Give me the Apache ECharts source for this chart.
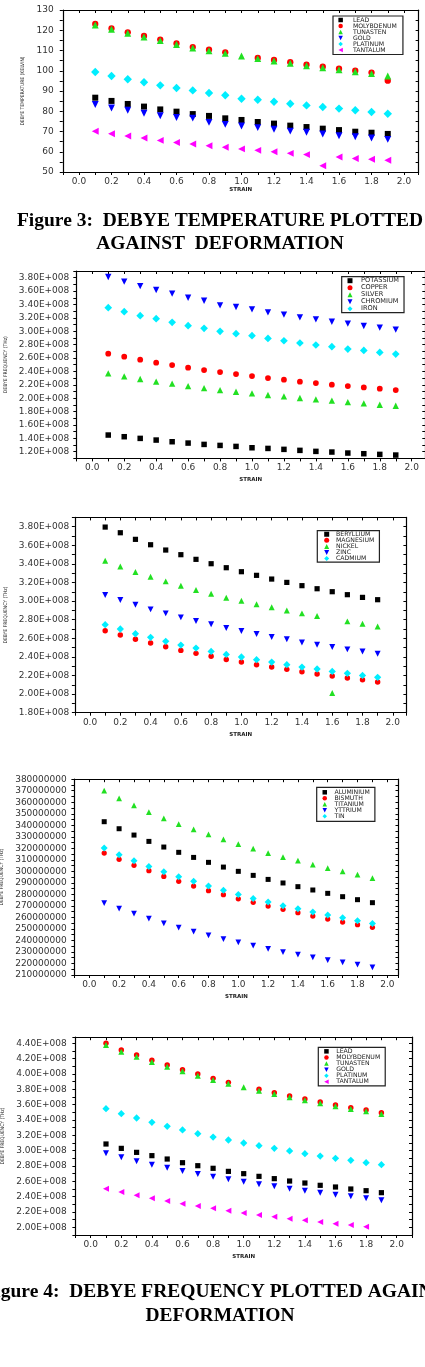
<!DOCTYPE html>
<html>
<head>
<meta charset="utf-8">
<script src="https://cdn.jsdelivr.net/npm/echarts@6/dist/echarts.min.js"></script>
<style>
html,body{margin:0;padding:0;background:#fff;}
#c{width:425px;height:1367px;}
</style>
</head>
<body>
<div id="c"></div>
<script>
// ---------- DATA ----------
const strain = [0.1,0.2,0.3,0.4,0.5,0.6,0.7,0.8,0.9,1.0,1.1,1.2,1.3,1.4,1.5,1.6,1.7,1.8,1.9];

// Figure 3: Debye temperature (K)
const c1_lead       = [86.7,85.1,83.6,82.3,80.9,79.8,78.6,77.7,76.5,75.7,74.7,73.9,72.9,72.2,71.4,70.7,69.9,69.4,68.8];
const c1_molybdenum = [123.1,120.9,119.0,117.2,115.4,113.5,111.7,110.4,109.1,null,106.3,105.3,104.2,103.0,102.0,101.0,100.0,99.1,95.1];
const c1_tungsten   = [122.6,120.5,118.5,116.7,114.9,113.0,111.2,109.9,108.6,107.3,106.0,104.8,103.7,102.5,101.5,100.5,99.5,98.6,97.4];
const c1_gold       = [83.3,81.6,80.5,79.0,77.8,76.9,76.6,74.5,73.5,72.7,71.9,71.1,70.2,69.6,68.8,67.9,67.4,66.8,66.1];
const c1_platinum   = [99.4,97.4,95.8,94.3,92.8,91.5,90.3,89.0,87.9,86.2,85.7,84.7,83.7,82.9,82.1,81.3,80.5,79.6,78.8];
const c1_tantalum   = [70.1,68.9,67.8,66.8,65.6,64.6,63.8,63.0,62.2,61.4,60.7,60.0,59.2,58.6,53.1,57.4,56.7,56.3,55.8];

// Figure 4 panels: Debye frequency (THz)  (values in units of 1E+008)
const c2_potassium = [1.449,1.424,1.399,1.374,1.349,1.329,1.309,1.294,1.279,1.259,1.249,1.235,1.220,1.205,1.195,1.180,1.170,1.160,1.150];
const c2_copper    = [2.664,2.619,2.575,2.530,2.495,2.455,2.420,2.390,2.360,2.330,2.301,2.276,2.246,2.226,2.201,2.181,2.161,2.141,2.121];
const c2_silver    = [2.370,2.326,2.286,2.246,2.216,2.181,2.151,2.121,2.096,2.072,2.047,2.027,2.002,1.982,1.962,1.942,1.922,1.902,1.887];
const c2_chromium  = [3.810,3.740,3.675,3.616,3.561,3.500,3.456,3.387,3.362,3.327,3.282,3.247,3.207,3.177,3.142,3.113,3.078,3.053,3.023];
const c2_iron      = [3.352,3.292,3.232,3.187,3.133,3.083,3.043,2.998,2.963,2.933,2.893,2.858,2.824,2.794,2.769,2.734,2.714,2.684,2.659];

const c3_beryllium = [3.796,3.735,3.664,3.606,3.549,3.499,3.449,3.402,3.359,3.316,3.277,3.237,3.201,3.166,3.133,3.101,3.069,3.040,3.015];
const c3_magnesium = [2.682,2.635,2.589,2.549,2.510,2.470,2.438,2.406,2.373,2.345,2.316,2.291,2.266,2.241,2.216,2.194,2.173,2.155,2.130];
const c3_nickel    = [3.434,3.373,3.313,3.262,3.212,3.166,3.119,3.080,3.037,3.004,2.965,2.933,2.900,2.868,2.839,2.012,2.782,2.757,2.728];
const c3_zinc      = [3.065,3.011,2.961,2.911,2.868,2.825,2.786,2.750,2.710,2.678,2.646,2.614,2.589,2.556,2.531,2.506,2.481,2.459,2.434];
const c3_cadmium   = [2.746,2.700,2.649,2.610,2.567,2.527,2.495,2.459,2.427,2.399,2.370,2.345,2.316,2.291,2.270,2.244,2.223,2.201,2.180];

// (values in units of 1 000 000)
const c4_aluminium = [343.1,337.0,331.5,326.0,321.1,316.5,312.1,307.8,303.7,300.0,296.5,293.0,289.9,286.7,283.8,280.9,278.0,275.4,272.8];
const c4_bismuth   = [315.9,310.4,305.2,300.6,295.6,291.3,287.2,283.2,279.7,276.2,273.1,269.9,267.0,264.1,261.2,258.6,256.0,253.7,251.4];
const c4_titanium  = [370.0,363.3,357.3,351.5,346.0,341.1,336.4,332.1,327.8,323.7,319.7,315.9,312.4,309.2,305.8,302.9,300.0,297.1,294.2];
const c4_yttrium   = [272.5,267.6,263.2,258.9,254.8,251.1,247.6,244.4,241.2,238.3,235.5,232.6,229.9,227.6,225.3,223.0,221.0,218.9,216.6];
const c4_tin       = [320.2,314.4,309.2,304.3,299.7,295.3,291.3,287.2,283.5,280.0,276.5,273.4,270.2,267.6,264.7,262.1,259.8,257.2,254.8];

const c5_lead       = [3.087,3.030,2.978,2.935,2.891,2.843,2.804,2.770,2.730,2.700,2.665,2.635,2.604,2.578,2.548,2.526,2.500,2.478,2.452];
const c5_molybdenum = [4.400,4.313,4.248,4.178,4.117,4.057,4.000,3.943,3.891,null,3.800,3.757,3.713,3.674,3.635,3.596,3.561,3.530,3.496];
const c5_tungsten   = [4.378,4.291,4.226,4.157,4.096,4.035,3.978,3.922,3.874,3.826,3.783,3.739,3.696,3.657,3.617,3.578,3.543,3.513,3.478];
const c5_gold       = [2.965,2.913,2.861,2.817,2.778,2.735,2.696,2.661,2.626,2.596,2.561,2.535,2.504,2.478,2.452,2.426,2.404,2.378,2.352];
const c5_platinum   = [3.548,3.483,3.426,3.370,3.317,3.270,3.222,3.178,3.139,3.100,3.065,3.030,2.996,2.961,2.930,2.900,2.874,2.843,2.817];
const c5_tantalum   = [2.504,2.461,2.417,2.378,2.343,2.309,2.278,2.248,2.217,2.187,2.161,2.139,2.113,2.091,2.070,2.048,2.030,2.009,null];

const UNIT_E8 = 1e8, UNIT_M = 1e6;

// ---------- STYLE / MARKERS ----------
const MK = {
  sq:   {symbol:'rect', rot:0, color:'#000000', k:1, icon:'rect'},
  ci:   {symbol:'circle', rot:0, color:'#ff0000', k:1.05, icon:'circle'},
  up:   {symbol:'triangle', rot:0, color:'#22e022', k:1.15, icon:'path://M5,0L10,10L0,10Z'},
  dn:   {symbol:'triangle', rot:180, color:'#0000ff', k:1.15, icon:'path://M0,0L10,0L5,10Z'},
  di:   {symbol:'diamond', rot:0, color:'#00eeff', k:1.4, icon:'diamond'},
  lf:   {symbol:'triangle', rot:90, color:'#ff00ff', k:1.15, icon:'path://M10,0L10,10L0,5Z'}
};

const eFmt = v => { const n = Math.round(v/1e7); return n % 2 ? '' : (n/10).toFixed(2) + 'E+008'; };
const xFmt = v => { const n = Math.round(v*10); return (n % 2 || n < 0) ? '' : (n/10).toFixed(1); };

const panels = [
  { grid:{left:62.75, top:10, width:355.9, height:162}, xmax:2.09,
    y:{min:50, max:130, interval:5, fmt: v => (Math.round(v) % 10 === 0 ? String(Math.round(v)) : '')},
    yName:'DEBYE TEMPERATURE (KELVIN)', yNameGap:35, yLabMargin:9, xLabMargin:5, xNameGap:15, size:6,
    legend:{left:333, top:16, pitch:4.9, icon:4.5, fs:6.2, pad:[1,6,1.5,5.4], tpad:5} ,
    series:[['LEAD',c1_lead,'sq',1],['MOLYBDENUM',c1_molybdenum,'ci',1],['TUNASTEN',c1_tungsten,'up',1],
            ['GOLD',c1_gold,'dn',1],['PLATINUM',c1_platinum,'di',1],['TANTALUM',c1_tantalum,'lf',1]] },
  { grid:{left:76.3, top:271.0, width:349.0, height:187.4}, xmax:2.085,
    y:{min:1.1e8, max:3.9e8, interval:1e7, fmt:eFmt},
    yName:'DEBYE FREQUENCY (THz)', yNameGap:68, yLabMargin:7, xLabMargin:4.5, xNameGap:18, size:5.5,
    legend:{left:341.7, top:276.7, pitch:6.1, icon:5, fs:6.6, pad:[0.5,5,0.5,5.8], tpad:3.5},
    series:[['POTASSIUM',c2_potassium,'sq',UNIT_E8],['COPPER',c2_copper,'ci',UNIT_E8],['SILVER',c2_silver,'up',UNIT_E8],
            ['CHROMIUM',c2_chromium,'dn',UNIT_E8],['IRON',c2_iron,'di',UNIT_E8]] },
  { grid:{left:74.9, top:517.4, width:331.5, height:195.3}, xmax:2.09,
    y:{min:1.8e8, max:3.9e8, interval:1e7, fmt:eFmt},
    yName:'DEBYE FREQUENCY (THz)', yNameGap:66.5, yLabMargin:5.6, xLabMargin:5.5, xNameGap:18.5, size:5.2,
    legend:{left:317.3, top:530.7, pitch:6.07, icon:5, fs:6.2, pad:[0.5,5,0.5,6.9], tpad:1.8},
    series:[['BERYLLIUM',c3_beryllium,'sq',UNIT_E8],['MAGNESIUM',c3_magnesium,'ci',UNIT_E8],['NICKEL',c3_nickel,'up',UNIT_E8],
            ['ZINC',c3_zinc,'dn',UNIT_E8],['CADMIUM',c3_cadmium,'di',UNIT_E8]] },
  { grid:{left:74.4, top:779.2, width:324.1, height:195.8}, xmax:2.075,
    y:{min:2.1e8, max:3.8e8, interval:5e6, fmt: v => (Math.round(v/5e6) % 2 ? '' : String(Math.round(v)))},
    yName:'DEBYE FREQUENCY (THz)', yNameGap:65, yLabMargin:7.7, xLabMargin:5, xNameGap:18.5, size:5,
    legend:{left:316.7, top:787.3, pitch:6.0, icon:4.5, fs:6.2, pad:[2,5,2,5.8], tpad:2.5},
    series:[['ALUMINIUM',c4_aluminium,'sq',UNIT_M],['BISMUTH',c4_bismuth,'ci',UNIT_M],['TITANIUM',c4_titanium,'up',UNIT_M],
            ['YTTRIUM',c4_yttrium,'dn',UNIT_M],['TIN',c4_tin,'di',UNIT_M]] },
  { grid:{left:75.4, top:1037.2, width:336.6, height:197.8}, xmax:2.1,
    y:{min:1.9e8, max:4.48e8, interval:1e7, fmt:eFmt},
    yName:'DEBYE FREQUENCY (THz)', yNameGap:67, yLabMargin:8.7, xLabMargin:5.5, xNameGap:19, size:5.2,
    legend:{left:318.3, top:1047.3, pitch:6.1, icon:4.5, fs:6.2, pad:[1,5,1,5.9], tpad:2.5},
    series:[['LEAD',c5_lead,'sq',UNIT_E8],['MOLYBDENUM',c5_molybdenum,'ci',UNIT_E8],['TUNASTEN',c5_tungsten,'up',UNIT_E8],
            ['GOLD',c5_gold,'dn',UNIT_E8],['PLATINUM',c5_platinum,'di',UNIT_E8],['TANTALUM',c5_tantalum,'lf',UNIT_E8]] }
];

const grids=[], xAxes=[], yAxes=[], series=[], legends=[];
const AX = '#000';
const tickFont = {fontSize:9, fontFamily:'DejaVu Sans', color:'#333'};

panels.forEach((p, i) => {
  grids.push(Object.assign({outerBoundsMode:'none', containLabel:false}, p.grid));
  const xBase = {type:'value', gridIndex:i, min:-0.1, max:p.xmax, interval:0.1, splitLine:{show:false},
    axisLine:{show:true, onZero:false, lineStyle:{color:AX, width:1.2}}};
  xAxes.push(Object.assign({}, xBase, {position:'bottom',
    axisTick:{show:true, inside:false, length:3, lineStyle:{color:AX}},
    axisLabel:Object.assign({formatter:xFmt, margin:p.xLabMargin, showMinLabel:true, showMaxLabel:true}, tickFont),
    name:'STRAIN', nameLocation:'middle', nameGap:p.xNameGap,
    nameTextStyle:{fontSize:5.5, fontWeight:'bold', fontFamily:'DejaVu Sans', color:'#222'}}));
  xAxes.push(Object.assign({}, xBase, {position:'top',
    axisTick:{show:true, inside:true, length:3, lineStyle:{color:AX}}, axisLabel:{show:false}}));
  const yBase = {type:'value', gridIndex:i, min:p.y.min, max:p.y.max, interval:p.y.interval, splitLine:{show:false},
    axisLine:{show:true, onZero:false, lineStyle:{color:AX, width:1.2}}};
  yAxes.push(Object.assign({}, yBase, {position:'left',
    axisTick:{show:true, inside:false, length:3, lineStyle:{color:AX}},
    axisLabel:Object.assign({formatter:p.y.fmt, margin:p.yLabMargin, showMinLabel:true, showMaxLabel:true}, tickFont),
    name:p.yName, nameLocation:'middle', nameGap:p.yNameGap, nameRotate:90,
    nameTextStyle:{fontSize:5, fontFamily:'Liberation Sans Narrow, DejaVu Sans Condensed, sans-serif', color:'#222'}}));
  yAxes.push(Object.assign({}, yBase, {position:'right',
    axisTick:{show:true, inside:true, length:3, lineStyle:{color:AX}}, axisLabel:{show:false}}));

  p.series.forEach(([name, vals, mk, unit]) => {
    const m = MK[mk];
    const data = [];
    vals.forEach((v, k) => { if (v !== null) data.push([strain[k], v*unit]); });
    series.push({type:'scatter', name, xAxisIndex:2*i, yAxisIndex:2*i, data,
      symbol:m.symbol, symbolRotate:m.rot, symbolSize:p.size*m.k,
      itemStyle:{color:m.color, opacity:1}, emphasis:{disabled:true}, silent:true});
  });

  const L = p.legend;
  legends.push({orient:'vertical', left:L.left, top:L.top, padding:L.pad, itemGap:0,
    itemWidth:L.icon, itemHeight:L.icon, selectedMode:false, symbolRotate:0,
    borderColor:'#222', borderWidth:1.2, backgroundColor:'#fff',
    textStyle:{fontSize:L.fs, lineHeight:L.pitch, fontFamily:'DejaVu Sans', color:'#222', padding:[0,0,0,L.tpad]},
    data:p.series.map(s => ({name:s[0], icon:MK[s[2]].icon, symbolRotate:0,
      itemStyle:{color:MK[s[2]].color}}))});
});

const capFont = 'bold 19.5px "Liberation Serif", "Times New Roman", serif';
const captions = [
  ['Figure 3:  DEBYE TEMPERATURE PLOTTED', 220.5],
  ['AGAINST  DEFORMATION', 243.8],
  ['Figure 4:  DEBYE FREQUENCY PLOTTED AGAINST', 1292],
  ['DEFORMATION', 1315.5]
];

const chart = echarts.init(document.getElementById('c'), null, {renderer:'canvas'});
chart.setOption({
  animation:false,
  backgroundColor:'#fff',
  grid:grids, xAxis:xAxes, yAxis:yAxes, series, legend:legends,
  graphic: captions.map(([t, y]) => ({type:'text', x:220, y, silent:true,
    style:{text:t, font:capFont, fill:'#000', align:'center', verticalAlign:'middle'}}))
});
</script>
</body>
</html>
